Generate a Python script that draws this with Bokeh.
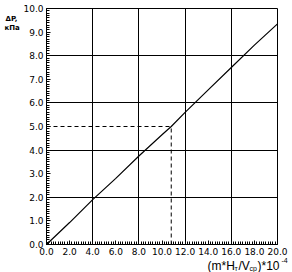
from bokeh.plotting import figure
from bokeh.models import Range1d, SingleIntervalTicker, FixedTicker, Label, PrintfTickFormatter, Grid
from bokeh.embed import file_html
from bokeh.resources import INLINE

# data
x_line = [0, 2, 4, 6, 8, 10, 10.8, 12, 14, 16, 18, 20]
y_line = [0, 0.93, 1.9, 2.8, 3.75, 4.65, 5.0, 5.6, 6.55, 7.5, 8.45, 9.35]
x_ref = 10.8
y_ref = 5.0
x_min, x_max = 0, 20
y_min, y_max = 0, 10
x_grid = [4, 8, 12, 16]
y_grid = [2, 4, 6, 8]

# layout (pixels) of the plotting box inside the 292x272 canvas
W, H = 292, 272
L, R, T, B = 46, 277, 8, 244
sx = (R - L) / (x_max - x_min)
sy = (B - T) / (y_max - y_min)

def px_x(px):
    return x_min + (px - L) / sx

def px_y(py):
    return y_min + (B - py) / sy

FONT = "DejaVu Sans"
TFONT = "Liberation Sans"
p = figure(width=W, height=H, output_backend="svg", toolbar_location=None,
           x_range=Range1d(px_x(0), px_x(W)), y_range=Range1d(px_y(H), px_y(0)),
           min_border=0)
p.background_fill_color = "white"
p.border_fill_color = "white"
p.outline_line_color = None

def style_axis(ax):
    ax.major_tick_in = 4
    ax.major_tick_out = 0
    ax.minor_tick_in = 3
    ax.minor_tick_out = 0
    ax.axis_line_color = "black"
    ax.axis_line_width = 1
    ax.major_tick_line_color = "black"
    ax.minor_tick_line_color = "black"
    ax.major_label_text_font = FONT
    ax.major_label_text_font_size = "9px"
    ax.major_label_text_color = "black"
    ax.major_label_standoff = 3
    ax.formatter = PrintfTickFormatter(format="%.1f")

p.xaxis.ticker = SingleIntervalTicker(interval=2, num_minor_ticks=10)
p.yaxis.ticker = SingleIntervalTicker(interval=1, num_minor_ticks=10)
p.xaxis.fixed_location = y_min
p.yaxis.fixed_location = x_min
p.xaxis.bounds = (x_min, x_max)
p.yaxis.bounds = (y_min, y_max)
style_axis(p.xaxis[0])
style_axis(p.yaxis[0])

p.xgrid.ticker = FixedTicker(ticks=x_grid)
p.ygrid.ticker = FixedTicker(ticks=y_grid)
p.xgrid.cross_bounds = (y_min, y_max)
p.ygrid.cross_bounds = (x_min, x_max)
# closing border of the box (top and right)
p.add_layout(Grid(dimension=0, ticker=FixedTicker(ticks=[x_max]), cross_bounds=(y_min, y_max)))
p.add_layout(Grid(dimension=1, ticker=FixedTicker(ticks=[y_max]), cross_bounds=(x_min, x_max)))
for g in p.grid:
    g.grid_line_color = "black"
    g.grid_line_alpha = 1
    g.grid_line_width = 1

p.line([x_min, x_ref], [y_ref, y_ref], line_color="black", line_width=1, line_dash="4 3")
p.line([x_ref, x_ref], [y_min, y_ref], line_color="black", line_width=1, line_dash="4 3")
p.line(x_line, y_line, line_color="black", line_width=1.2)

def lab(text, px, py, size, font=FONT, bold=False):
    p.add_layout(Label(x=px_x(px), y=px_y(py), text=text,
                       text_font=font, text_font_size=size, text_color="black",
                       text_font_style="bold" if bold else "normal",
                       text_align="left", text_baseline="alphabetic"))

lab("ΔP,", 5, 18, "7px", bold=True)
lab("кПа", 4, 27, "7px", bold=True)

lab("(m*H", 207, 265, "12px", TFONT)
lab("т", 234, 268, "7px", TFONT)
lab("/V", 238, 265, "12px", TFONT)
lab("ср", 249, 268, "7px", TFONT)
lab(")*10", 257, 265, "12px", TFONT)
lab("-4", 281, 260, "7px", TFONT)

open("out.html", "w").write(file_html(p, INLINE))
